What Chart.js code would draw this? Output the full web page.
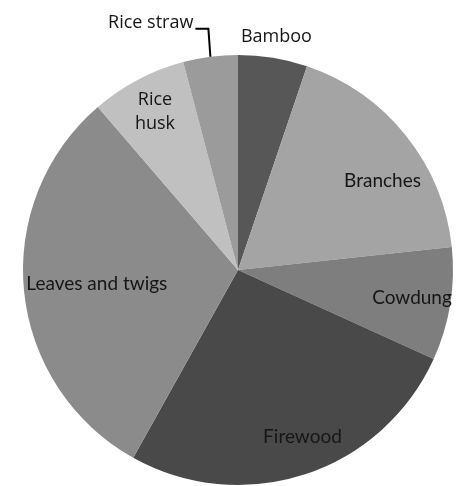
<!DOCTYPE html>
<html lang="en">
<head>
  <meta charset="UTF-8">
  <title>Fuel sources</title>
  <script src="https://cdn.jsdelivr.net/npm/chart.js"></script>
  <style>
    body {
      margin: 0;
      background: #fff;
    }
    #wrap {
      width: 459px;
      height: 486px;
      position: relative;
    }
  </style>
</head>
<body>

<div id="wrap">
  <canvas id="fuelChart"></canvas>
</div>

<script>
  const fuels = ["Bamboo", "Branches", "Cowdung", "Firewood", "Leaves and twigs", "Rice husk", "Rice straw"];
  const shares = [5.2, 18.1, 8.5, 26.3, 30.6, 7.2, 4.1];
  const shades = ["#575757", "#a4a4a4", "#7e7e7e", "#494949", "#8b8b8b", "#c0c0c0", "#9b9b9b"];

  // where each label sits: angle nudge (deg), distance as a fraction of the radius
  const labelSpots = {
    "Bamboo":           { shift: 0,  frac: 1.10, font: "18px 'Open Sans'" },
    "Branches":         { shift: 7,  frac: 0.79, font: "19px Lato" },
    "Cowdung":          { shift: 0,  frac: 0.82, font: "19px Lato" },
    "Firewood":         { shift: -3, frac: 0.83, font: "19px Lato" },
    "Leaves and twigs": { shift: 0,  frac: 0.66, font: "19px Lato" },
    "Rice husk":        { shift: 0,  frac: 0.83, font: "18px 'Open Sans'", lines: ["Rice", "husk"] },
    "Rice straw":       { leader: true, font: "18px 'Open Sans'" }
  };

  const sliceLabels = {
    id: "sliceLabels",
    afterDatasetsDraw(chart) {
      const ctx = chart.ctx;
      const arcs = chart.getDatasetMeta(0).data;
      ctx.save();
      ctx.fillStyle = "#161616";
      ctx.strokeStyle = "#000";
      ctx.textBaseline = "middle";
      arcs.forEach((arc, i) => {
        const name = fuels[i];
        const spot = labelSpots[name];
        const mid = (arc.startAngle + arc.endAngle) / 2;
        ctx.font = spot.font;
        if (spot.leader) {
          // text sits above the pie with an elbow line down to the slice
          const ex = arc.x + Math.cos(mid) * arc.outerRadius;
          const ey = arc.y + Math.sin(mid) * arc.outerRadius;
          const ty = ey - 28;
          ctx.lineWidth = 2;
          ctx.beginPath();
          ctx.moveTo(ex, ey);
          ctx.lineTo(ex - 2, ty);
          ctx.lineTo(ex - 15, ty);
          ctx.stroke();
          ctx.textAlign = "right";
          ctx.fillText(name, ex - 17, ty - 6);
          return;
        }
        const a = mid + spot.shift * Math.PI / 180;
        const r = arc.outerRadius * spot.frac;
        const px = arc.x + Math.cos(a) * r;
        const py = arc.y + Math.sin(a) * r;
        ctx.textAlign = "center";
        const lines = spot.lines || [name];
        const gap = 24;
        lines.forEach((ln, k) => {
          ctx.fillText(ln, px, py + (k - (lines.length - 1) / 2) * gap);
        });
      });
      ctx.restore();
    }
  };

  new Chart(document.getElementById("fuelChart"), {
    type: "pie",
    data: {
      labels: fuels,
      datasets: [{
        data: shares,
        backgroundColor: shades,
        borderWidth: 0
      }]
    },
    options: {
      responsive: true,
      maintainAspectRatio: false,
      animation: false,
      layout: {
        padding: { left: 23, top: 55, right: 6, bottom: 1 }
      },
      plugins: {
        legend: { display: false },
        tooltip: { enabled: false }
      }
    },
    plugins: [sliceLabels]
  });
</script>
</body>
</html>
